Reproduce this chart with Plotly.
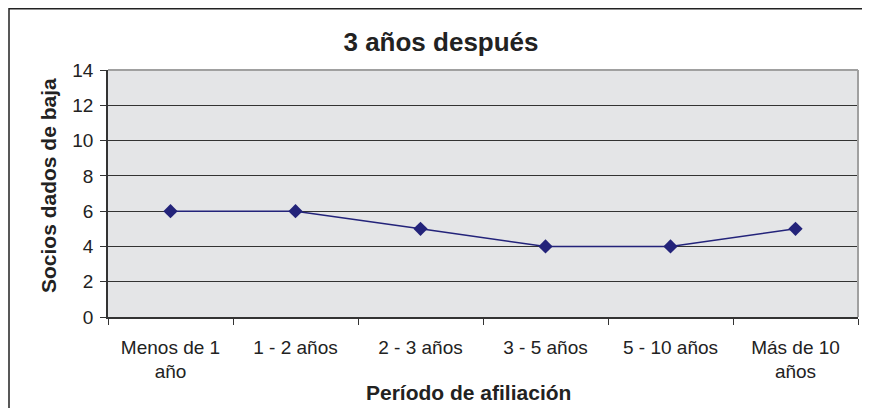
import plotly.graph_objects as go

categories = ["Menos de 1<br>año", "1 - 2 años", "2 - 3 años", "3 - 5 años", "5 - 10 años", "Más de 10<br>años"]
values = [6, 6, 5, 4, 4, 5]
y_ticks = [0, 2, 4, 6, 8, 10, 12, 14]

navy = "#23237A"
txt = "#222222"

fig = go.Figure()
fig.add_trace(go.Scatter(
    x=categories, y=values, mode="lines+markers",
    line=dict(color=navy, width=1.5),
    marker=dict(symbol="diamond", size=11, color=navy),
    showlegend=False, cliponaxis=False,
))

# page has an 8px body margin, so the figure is 862x400 drawn at (8,8)
W, H = 862, 400
L, R, T, B = 100, 12, 62, 91
pw, ph = W - L - R, H - T - B

def px(x):
    return (x - L) / pw

def py(y):
    return (T + ph - y) / ph

fig.update_layout(
    width=W, height=H,
    margin=dict(l=L, r=R, t=T, b=B),
    paper_bgcolor="white",
    plot_bgcolor="#E4E5E7",
    font=dict(family="Liberation Sans, Arial", size=19, color=txt),
    title=dict(text="<b>3 años después</b>", x=433 / W, xanchor="center",
               y=1 - 34 / H, yanchor="middle", yref="container",
               font=dict(size=26, color=txt)),
    xaxis=dict(
        type="category", tickson="boundaries", ticks="outside", ticklen=6,
        tickcolor="#333333", showline=True, linecolor="#333333", linewidth=1.5,
        showgrid=False, zeroline=False, mirror=False,
        range=[-0.5, 5.5], ticklabelstandoff=12,
    ),
    yaxis=dict(
        range=[0, 14], tickvals=y_ticks, ticks="outside", ticklen=6,
        tickcolor="#333333", showline=True, linecolor="#333333", linewidth=1.5,
        showgrid=True, gridcolor="#333333", gridwidth=1, zeroline=False,
        ticklabelstandoff=3,
    ),
    annotations=[
        dict(text="<b>Período de afiliación</b>", xref="paper", yref="paper",
             x=px(460), y=py(384), xanchor="center", yanchor="middle",
             showarrow=False, font=dict(size=21, color=txt)),
        dict(text="<b>Socios dados de baja</b>", xref="paper", yref="paper",
             x=px(40), y=py(178), xanchor="center", yanchor="middle",
             textangle=-90, showarrow=False, font=dict(size=21, color=txt)),
    ],
    shapes=[
        dict(type="line", xref="paper", yref="paper", x0=0, x1=1, y0=1, y1=1,
             line=dict(color="#A0A0A0", width=2), layer="above"),
        dict(type="line", xref="paper", yref="paper", x0=1, x1=1, y0=0, y1=1,
             line=dict(color="#A0A0A0", width=2), layer="above"),
        dict(type="rect", xref="paper", yref="paper",
             x0=px(1), x1=px(W + 20),
             y0=py(H + 20), y1=py(0.75),
             line=dict(color="#222222", width=1.5), layer="above"),
    ],
)

fig.write_html("out.html")
